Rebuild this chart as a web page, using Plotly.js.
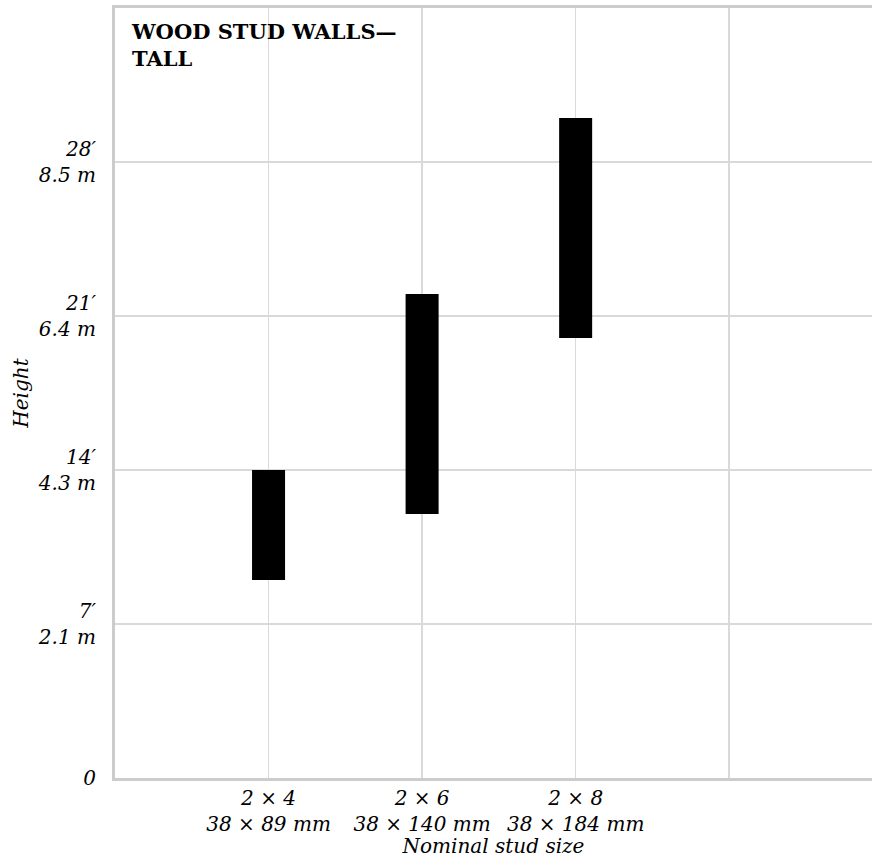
<!DOCTYPE html>
<html>
<head>
<meta charset="utf-8">
<script src="https://cdn.plot.ly/plotly-3.0.1.min.js"></script>
<style>html,body{margin:0;padding:0;background:#fff;overflow:hidden}</style>
</head>
<body>
<div id="chart" style="width:872px;height:858px"></div>
<script>
const studSizes = ["2 × 4<br>38 × 89 mm", "2 × 6<br>38 × 140 mm", "2 × 8<br>38 × 184 mm", ""];
const studPos = [1, 2, 3, 4];
const minHeightFt = [9, 12, 20];
const maxHeightFt = [14, 22, 30];
const yTickVals = [0, 7, 14, 21, 28];
const yTickText = ["0", "7′<br>2.1 m", "14′<br>4.3 m", "21′<br>6.4 m", "28′<br>8.5 m"];

const fontFam = "DejaVu Serif, serif";
const spans = maxHeightFt.map((v, i) => v - minHeightFt[i]);

const trace = {
  type: "bar",
  x: studPos.slice(0, 3),
  y: spans,
  base: minHeightFt,
  width: 0.215,
  marker: {color: "#000000", line: {width: 0}},
  hoverinfo: "skip"
};

const layout = {
  width: 872, height: 858,
  margin: {l: 115, r: 0, t: 8, b: 80},
  paper_bgcolor: "#ffffff", plot_bgcolor: "#ffffff",
  showlegend: false,
  font: {family: fontFam, size: 20, color: "#000"},
  xaxis: {
    range: [0, 4.93],
    tickvals: studPos, ticktext: studSizes,
    showgrid: true, gridcolor: "#d9d9d9", gridwidth: 1.5,
    showline: true, linecolor: "#cccccc", linewidth: 3, mirror: true,
    zeroline: false, ticks: "",
    tickfont: {family: fontFam, size: 20, style: "italic"},
    title: {text: "Nominal stud size", font: {family: fontFam, size: 20, style: "italic"}, standoff: 0}
  },
  yaxis: {
    range: [0, 35],
    tickvals: yTickVals, ticktext: yTickText,
    showgrid: true, gridcolor: "#d9d9d9", gridwidth: 1.5,
    showline: true, linecolor: "#cccccc", linewidth: 3,
    zeroline: false, ticks: "", ticklabelstandoff: 12,
    tickfont: {family: fontFam, size: 20, style: "italic"},
    title: {text: "Height", font: {family: fontFam, size: 20, style: "italic"}, standoff: 4}
  },
  annotations: [{
    xref: "paper", yref: "paper", x: 0.018, y: 0.988,
    xanchor: "left", yanchor: "top", align: "left", showarrow: false,
    text: "<b>WOOD STUD WALLS—<br>TALL</b>",
    font: {family: fontFam, size: 21, color: "#000"}
  }]
};

Plotly.newPlot("chart", [trace], layout, {displayModeBar: false, staticPlot: true});
</script>
</body>
</html>
